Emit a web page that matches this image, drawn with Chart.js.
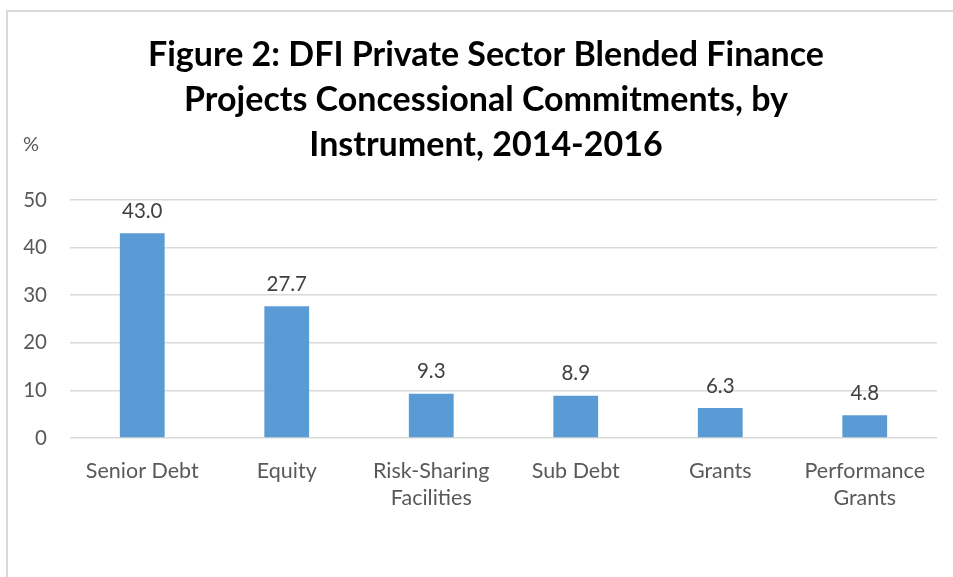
<!DOCTYPE html>
<html>
<head>
<meta charset="utf-8">
<script src="https://cdn.jsdelivr.net/npm/chart.js@4.4.1/dist/chart.umd.min.js"></script>
<style>
  html, body { margin: 0; padding: 0; background: #ffffff; overflow: hidden; }
  #wrap { position: relative; width: 953px; height: 577px; }
  #frame { position: absolute; left: 6px; top: 10px; width: 1000px; height: 700px; border: 2px solid #d9d9d9; box-sizing: border-box; pointer-events: none; }
  canvas { position: absolute; left: 0; top: 0; }
</style>
</head>
<body>
<div id="wrap">
  <div id="frame"></div>
  <canvas id="c" width="953" height="577"></canvas>
</div>
<script>
const categories = [["Senior Debt"], ["Equity"], ["Risk-Sharing", "Facilities"], ["Sub Debt"], ["Grants"], ["Performance", "Grants"]];
const values = [43.0, 27.7, 9.3, 8.9, 6.3, 4.8];
const titleLines = ["Figure 2: DFI Private Sector Blended Finance", "Projects Concessional Commitments, by", "Instrument, 2014-2016"];
const yUnit = "%";
const yMin = 0, yMax = 50, yStep = 10;

const FONT = "Lato, 'Liberation Sans', sans-serif";

const overlay = {
  id: 'overlay',
  afterDraw(chart) {
    const ctx = chart.ctx;
    ctx.save();
    // title
    ctx.fillStyle = '#000000';
    ctx.font = "bold 34px " + FONT;
    ctx.textAlign = 'center';
    ctx.textBaseline = 'alphabetic';
    titleLines.forEach((t, i) => ctx.fillText(t, 486, 66 + i * 45));
    // unit
    ctx.fillStyle = '#595959';
    ctx.font = "20px " + FONT;
    ctx.textAlign = 'left';
    ctx.fillText(yUnit, 23, 151);
    // data labels
    ctx.fillStyle = '#404040';
    ctx.textAlign = 'center';
    ctx.textBaseline = 'middle';
    ctx.font = "20.5px " + FONT;
    const meta = chart.getDatasetMeta(0);
    meta.data.forEach((bar, i) => {
      ctx.fillText(values[i].toFixed(1), bar.x, bar.y - 22);
    });
    ctx.restore();
  }
};

new Chart(document.getElementById('c'), {
  type: 'bar',
  data: {
    labels: categories,
    datasets: [{
      data: values,
      backgroundColor: '#5b9bd5',
      borderWidth: 0,
      categoryPercentage: 1.0,
      barPercentage: 0.31
    }]
  },
  options: {
    responsive: false,
    animation: false,
    devicePixelRatio: 1,
    layout: { padding: { top: 200, right: 16, left: 0, bottom: 0 } },
    plugins: { legend: { display: false }, title: { display: false }, tooltip: { enabled: false } },
    scales: {
      x: {
        grid: { display: false, drawTicks: false },
        border: { display: false },
        ticks: { color: '#595959', font: { family: FONT, size: 21.5, lineHeight: 1.27 }, padding: 19, maxRotation: 0, autoSkip: false },
        afterFit(s) { s.height = 139; }
      },
      y: {
        min: yMin, max: yMax,
        grid: { color: '#d9d9d9', lineWidth: 1.5, drawTicks: false },
        border: { display: false },
        ticks: { stepSize: yStep, color: '#595959', font: { family: FONT, size: 20.5 }, padding: 23 },
        afterFit(s) { s.width = 70; }
      }
    }
  },
  plugins: [overlay]
});
</script>
</body>
</html>
